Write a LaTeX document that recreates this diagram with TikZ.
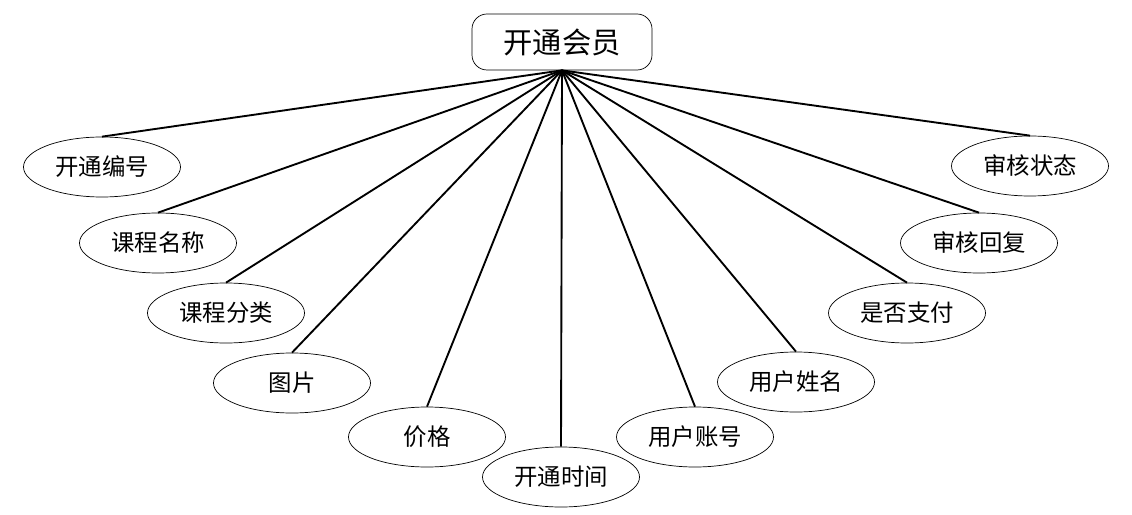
\documentclass[tikz,border=0pt]{standalone}
\usepackage{fontspec}
\newfontfamily\cjk{Noto Sans CJK SC}
\usetikzlibrary{shapes,positioning}
\newcommand \myattr[4]
{
\node[attr] (#1) at (#2,#3) {#4};
\draw[link] (kt.south)--(#1.north);
}

\begin{document}
\begin{tikzpicture}[x=0.03cm, y=-0.03cm, line join=round,
  attr/.style={ellipse, draw, line width=0.6pt, minimum width=4.71cm, minimum height=1.8cm, inner sep=0pt, font=\cjk\fontsize{20}{22}\selectfont},
  link/.style={line width=1.6pt}]
\useasboundingbox (0,0) rectangle (1132,515);
\node[draw, rounded corners=0.45cm, line width=0.6pt, minimum width=5.4cm, minimum height=1.68cm, font=\cjk\fontsize{25}{28}\selectfont] (kt) at (562,42) {开通会员};
% attributes, left to right
\myattr{bh}{102}{167}{开通编号}
\myattr{mc}{158}{243}{课程名称}
\myattr{fl}{226}{313}{课程分类}
\myattr{tp}{292}{383}{图片}
\myattr{jg}{427}{437}{价格}
\myattr{sj}{561}{477}{开通时间}
\myattr{zh}{695}{437}{用户账号}
\myattr{xm}{796}{382}{用户姓名}
\myattr{zf}{907}{313}{是否支付}
\myattr{hf}{979}{243}{审核回复}
\myattr{zt}{1030}{166}{审核状态}
\end{tikzpicture}
\end{document}
